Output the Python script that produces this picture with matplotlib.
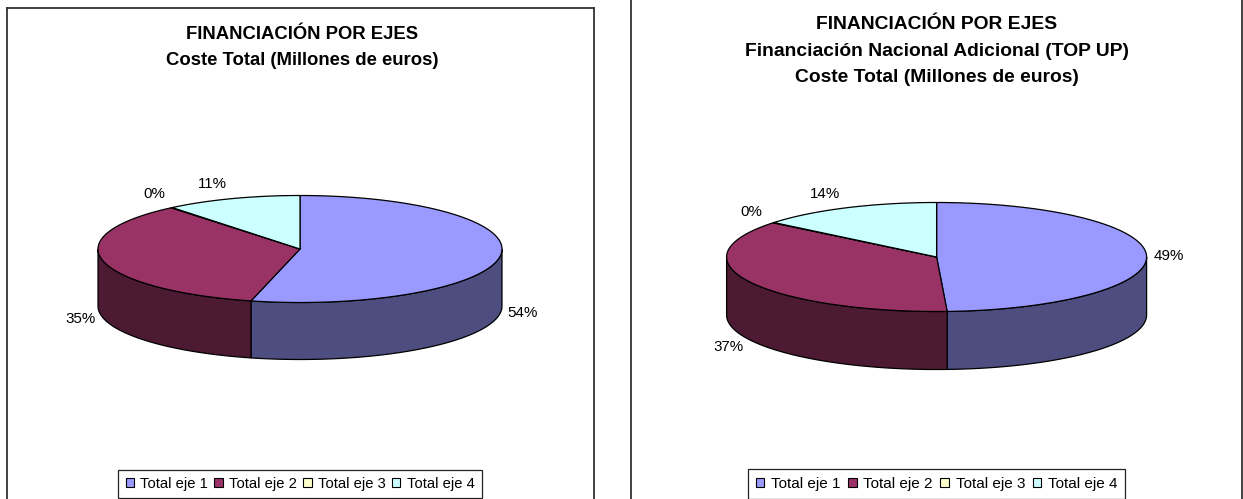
import numpy as np
import matplotlib
matplotlib.use("Agg")
import matplotlib.pyplot as plt
from matplotlib.patches import Polygon, Patch

plt.rcParams['font.family'] = ['Liberation Sans', 'DejaVu Sans']

categories = ["Total eje 1", "Total eje 2", "Total eje 3", "Total eje 4"]
values_left = [53.9, 35.1, 0.1, 10.9]
values_right = [49.2, 36.6, 0.1, 14.1]
title_left = "FINANCIACIÓN POR EJES\nCoste Total (Millones de euros)"
title_right = ("FINANCIACIÓN POR EJES\nFinanciación Nacional Adicional (TOP UP)\n"
               "Coste Total (Millones de euros)")

top_colors = ["#9999FF", "#993366", "#FFFFCC", "#CCFFFF"]
side_colors = ["#4D4D80", "#4D1A33", "#80805F", "#668080"]
W, H = 1243, 499
FRAME = "#333333"


def ell(theta, c, r, dy=0.0):
    t = np.radians(theta)
    return np.column_stack([c[0] + r[0] * np.sin(t), c[1] - r[1] * np.cos(t) + dy])


def draw_pie(ax, values, c, r, depth, offsets):
    vals = np.asarray(values, float)
    edges = np.concatenate([[0], np.cumsum(vals) / vals.sum() * 360])
    edges[-1] = 360
    lw = 0.9
    # side walls: only the front half (90..270 degrees) is visible
    for i in range(len(vals)):
        a, b = max(edges[i], 90), min(edges[i + 1], 270)
        if b <= a:
            continue
        th = np.linspace(a, b, 120)
        upper = ell(th, c, r)
        lower = ell(th[::-1], c, r, depth)
        ax.add_patch(Polygon(np.vstack([upper, lower]), closed=True,
                             fc=side_colors[i], ec="black", lw=lw, zorder=2))
    # top face
    for i in range(len(vals)):
        th = np.linspace(edges[i], edges[i + 1], 160)
        pts = np.vstack([[c], ell(th, c, r)])
        ax.add_patch(Polygon(pts, closed=True, fc=top_colors[i], ec="black",
                             lw=lw, joinstyle="round", zorder=3))
    # percentage labels, anchored on each slice's mid-angle
    for i, v in enumerate(vals):
        mid = (edges[i] + edges[i + 1]) / 2
        p = ell(np.array([mid]), c, r)[0]
        ax.text(p[0] + offsets[i][0], p[1] + offsets[i][1],
                f"{v / vals.sum() * 100:.0f}%", fontsize=10.9, color="black",
                ha="center", va="center", zorder=5)


def panel(fig, x0, x1, y0, spines):
    ax = fig.add_axes([x0 / W, 0, (x1 - x0) / W, (H - y0) / H])
    ax.set_xlim(x0, x1)
    ax.set_ylim(H, y0)
    ax.set_xticks([])
    ax.set_yticks([])
    for s in ax.spines:
        ax.spines[s].set_visible(s in spines)
        ax.spines[s].set_color(FRAME)
        ax.spines[s].set_linewidth(1.3)
    ax.patch.set_visible(False)
    return ax


def legend(ax, cx, fs, colsp):
    handles = [Patch(fc=top_colors[i], ec="black", lw=0.8, label=categories[i])
               for i in range(4)]
    ax.legend(handles=handles, ncol=4, loc="center",
              bbox_to_anchor=(cx, 484), bbox_transform=ax.transData,
              fontsize=fs, frameon=True, fancybox=False, framealpha=1,
              edgecolor="#222222", handlelength=0.58, handleheight=0.58,
              handletextpad=0.42, columnspacing=colsp, borderpad=0.5,
              borderaxespad=0).get_frame().set_linewidth(0.9)


fig = plt.figure(figsize=(W / 100, H / 100), dpi=100, facecolor="white")

axl = panel(fig, 7, 594, 7.5, ("left", "right", "top"))
draw_pie(axl, values_left, (300, 249), (202, 53.5), 57,
         [(22, 57), (-23, 58), (-17, -14), (-19.5, -15)])
axl.text(302, 47.5, title_left, ha="center", va="center", fontsize=13.3,
         fontweight="bold", linespacing=1.76)
legend(axl, 300, 10.6, 0.42)

axr = panel(fig, 631, 1241.5, 0, ("left", "right"))
draw_pie(axr, values_right, (936.6, 257), (210, 54.5), 58,
         [(22.5, 0), (-21, 65), (-22, -11), (-22, -14)])
axr.text(936.7, 51, title_right, ha="center", va="center", fontsize=13.85,
         fontweight="bold", linespacing=1.72)
legend(axr, 936.5, 10.95, 0.5)

fig.savefig("out.png", dpi=100, facecolor="white")
